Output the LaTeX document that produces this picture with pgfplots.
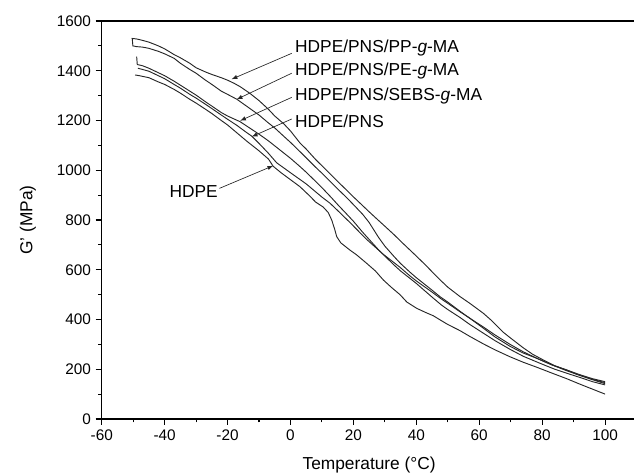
\documentclass[border=0pt]{standalone}
\usepackage{pgfplots}
\pgfplotsset{compat=1.18}
\usepackage{fontspec}
\setmainfont{Liberation Sans}
\begin{document}
\begin{tikzpicture}
\begin{axis}[
  scale only axis,
  width=401.1pt, height=298.5pt,
  xmin=-60, xmax=110, ymin=0, ymax=1600,
  axis line style={line width=0.8pt},
  xtick={-60,-40,...,100}, ytick={0,200,...,1600},
  minor x tick num=1, minor y tick num=1,
  xtick pos=bottom, ytick pos=left,
  tick align=outside,
  major tick length=4.5pt, minor tick length=2.5pt,
  tick style={line width=0.8pt, black},
  /pgf/number format/assume math mode=true,
  /pgf/number format/.cd, 1000 sep={}, /pgfplots/.cd,
  tick label style={font=\fontsize{11.5}{13}\selectfont},
  label style={font=\fontsize{13}{15}\selectfont},
  xlabel={Temperature (°C)},
  ylabel={G' (MPa)},
  xlabel style={at={(axis description cs:0.5,-0.1156)}, anchor=center},
  ylabel style={at={(axis description cs:-0.138,0.5)}, anchor=center},
  cycle list={black!85,line width=0.7pt,mark=none\\},
  clip=false,
]
% HDPE/PNS/PP-g-MA
\addplot coordinates {(-50.5,1530) (-49,1528) (-47,1522) (-45,1515) (-42,1500) (-40,1488) (-37,1465) (-35,1452) (-32,1430) (-30,1412) (-27,1395) (-25,1385) (-22,1372) (-20,1362) (-18,1350) (-16,1336) (-13,1310) (-10,1280) (-7,1245) (-5,1218) (-2,1185) (0,1158) (3,1110) (5,1085) (8,1043) (10,1018) (13,980) (15,955) (18,918) (20,893) (23,857) (25,833) (28,798) (30,775) (33,740) (35,715) (38,679) (40,655) (43,618) (45,592) (47.5,560) (50,530) (53.9,492) (57,465) (61.3,425) (64,395) (67.7,348) (70,325) (74,286) (77,260) (80.4,237) (84,214) (87.8,197) (91,180) (95,163) (100,146)};
% HDPE/PNS/PE-g-MA
\addplot coordinates {(-50.3,1530) (-50.1,1500) (-49,1497) (-47,1495) (-45,1490) (-42,1478) (-40,1468) (-37,1450) (-35,1430) (-32,1405) (-30,1390) (-27,1362) (-25,1345) (-22,1318) (-20,1305) (-17,1285) (-14,1258) (-10,1222) (-7,1190) (-5,1170) (-2,1135) (0,1112) (3,1075) (5,1050) (8,1012) (10,988) (13,950) (15,925) (18,888) (20,862) (23,822) (25,790) (28,730) (30,695) (33,652) (35,625) (38,590) (40,568) (43,538) (45,518) (47.5,492) (50,470) (54,432) (57,405) (61.3,365) (65,330) (69.8,292) (74,265) (78.3,244) (83,218) (87.8,197) (92,178) (96,162) (100,150)};
% HDPE/PNS/SEBS-g-MA
\addplot coordinates {(-48.9,1457) (-48.7,1425) (-47,1420) (-45,1410) (-42,1392) (-40,1380) (-37,1358) (-35,1342) (-32,1318) (-30,1302) (-27,1275) (-25,1258) (-22,1232) (-20,1218) (-16,1195) (-13,1170) (-10,1145) (-7,1118) (-5,1098) (-2,1068) (0,1048) (3,1015) (5,992) (8,955) (10,930) (13,890) (15,862) (18,822) (20,795) (23,750) (25,722) (28,680) (30,655) (33,618) (35,595) (38,565) (40,545) (43,512) (45,490) (48,458) (50,440) (53.9,408) (57,380) (61.3,345) (65,315) (69.8,280) (74,252) (79.3,224) (84,200) (87.8,184) (92,167) (96,150) (100,137)};
% HDPE/PNS
\addplot coordinates {(-48.5,1410) (-47,1405) (-45,1398) (-42,1380) (-40,1368) (-37,1345) (-35,1330) (-32,1305) (-30,1290) (-27,1265) (-25,1248) (-22,1222) (-20,1205) (-17,1180) (-14,1152) (-12.3,1137) (-10,1108) (-7,1068) (-4.4,1030) (0,990) (5,945) (10,892) (12.6,867) (15,838) (18.9,790) (24.2,722) (29.5,662) (34.8,610) (38,575) (40,555) (43,528) (45,510) (48,482) (50,465) (54,430) (57,405) (61.3,370) (65,338) (69.8,300) (74,270) (78.3,244) (83,218) (87.8,194) (92,175) (96,158) (100,142)};
% HDPE
\addplot coordinates {(-49.4,1383) (-48,1380) (-45,1372) (-42,1355) (-40,1345) (-37,1325) (-35,1310) (-32,1285) (-30,1270) (-27,1245) (-25,1228) (-22,1200) (-20,1182) (-17,1150) (-14,1118) (-10,1078) (-7,1045) (-5.5,1016) (-3,990) (0,962) (3,934) (6,898) (8,872) (10.4,852) (12,830) (13.1,800) (14,765) (14.7,733) (16,708) (18.9,679) (21,660) (24.2,626) (27,595) (29.5,559) (32,530) (34.8,500) (37,470) (40.1,445) (43,428) (45.4,415) (48,395) (50,380) (53.9,355) (57,332) (61.3,302) (65,278) (69.8,250) (74,228) (78.3,208) (83,185) (87.8,162) (92,140) (96,120) (100,100)};
% top frame line
\draw[line width=0.8pt] (rel axis cs:0,1) -- (rel axis cs:1,1);
% annotations
\begin{scope}[font=\fontsize{13}{15}\selectfont, line width=0.5pt, black!85]
\draw[-latex] (axis cs:0.4,1470) -- (axis cs:-18.7,1366);
\draw[-latex] (axis cs:0.4,1390) -- (axis cs:-17.1,1285);
\draw[-latex] (axis cs:0.4,1293) -- (axis cs:-16.0,1199);
\draw[-latex] (axis cs:0.4,1206) -- (axis cs:-12.3,1135);
\draw[-latex] (axis cs:-22.6,927) -- (axis cs:-5.5,1018);
\node[anchor=west, inner sep=0pt, black] at (axis cs:1.4,1493) {HDPE/PNS/PP-\textit{g}-MA};
\node[anchor=west, inner sep=0pt, black] at (axis cs:1.4,1399) {HDPE/PNS/PE-\textit{g}-MA};
\node[anchor=west, inner sep=0pt, black] at (axis cs:1.4,1300) {HDPE/PNS/SEBS-\textit{g}-MA};
\node[anchor=west, inner sep=0pt, black] at (axis cs:1.4,1198) {HDPE/PNS};
\node[anchor=east, inner sep=0pt, black] at (axis cs:-23.0,914) {HDPE};
\end{scope}
\coordinate (sw) at (rel axis cs:0,0);
\coordinate (ne) at (rel axis cs:0.9953,1);
\end{axis}
\pgfresetboundingbox
\path[use as bounding box] ([shift={(-76.3pt,-42.75pt)}]sw) rectangle ([shift={(0pt,15.75pt)}]ne);
\end{tikzpicture}
\end{document}
